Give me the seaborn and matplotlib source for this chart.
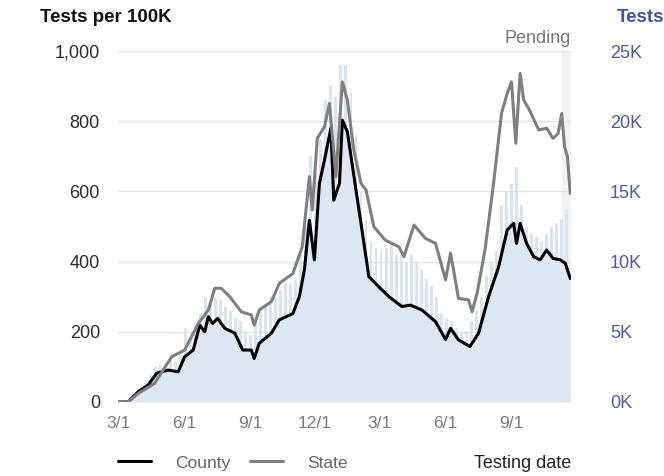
import pandas as pd
import numpy as np
import matplotlib
matplotlib.use("Agg")
import matplotlib.pyplot as plt
import matplotlib.dates as mdates
from matplotlib.lines import Line2D
import seaborn as sns

# 縣 (County) 每十萬人檢測數
county_dates = ["2020-03-01", "2020-03-15", "2020-03-29", "2020-04-12", "2020-04-24", "2020-05-10",
                "2020-05-24", "2020-06-02", "2020-06-14", "2020-06-23", "2020-06-30", "2020-07-05",
                "2020-07-11", "2020-07-18", "2020-07-28", "2020-08-11", "2020-08-22", "2020-09-03",
                "2020-09-07", "2020-09-14", "2020-10-01", "2020-10-12", "2020-10-31", "2020-11-09",
                "2020-11-16", "2020-11-23", "2020-11-30", "2020-12-07", "2020-12-14", "2020-12-23",
                "2020-12-27", "2021-01-04", "2021-01-08", "2021-01-15", "2021-01-27", "2021-02-03",
                "2021-02-14", "2021-02-28", "2021-03-14", "2021-04-01", "2021-04-13", "2021-04-29",
                "2021-05-18", "2021-06-01", "2021-06-08", "2021-06-19", "2021-07-05", "2021-07-17",
                "2021-07-31", "2021-08-14", "2021-08-26", "2021-09-04", "2021-09-08", "2021-09-13",
                "2021-09-22", "2021-10-02", "2021-10-11", "2021-10-20", "2021-10-29", "2021-11-08",
                "2021-11-15", "2021-11-22"]
county_values = [0, 0, 29, 48, 82, 91, 86, 129, 148, 219, 200, 243, 224, 238, 210, 196, 148, 148,
                 124, 167, 196, 234, 252, 300, 376, 518, 405, 623, 689, 780, 575, 623, 803, 770,
                 604, 509, 357, 328, 300, 272, 276, 262, 229, 178, 210, 177, 158, 196, 300, 385,
                 490, 509, 452, 509, 452, 414, 405, 433, 409, 405, 395, 352]

# 州 (State) 每十萬人檢測數
state_dates = ["2020-03-01", "2020-03-15", "2020-03-29", "2020-04-21", "2020-05-15", "2020-06-02",
               "2020-06-21", "2020-07-05", "2020-07-14", "2020-07-23", "2020-08-04", "2020-08-20",
               "2020-09-03", "2020-09-07", "2020-09-14", "2020-10-01", "2020-10-12", "2020-10-31",
               "2020-11-13", "2020-11-23", "2020-11-27", "2020-12-04", "2020-12-14", "2020-12-21",
               "2020-12-30", "2021-01-08", "2021-01-15", "2021-01-24", "2021-02-03", "2021-02-10",
               "2021-02-21", "2021-03-09", "2021-03-28", "2021-04-04", "2021-04-18", "2021-05-04",
               "2021-05-18", "2021-06-01", "2021-06-08", "2021-06-19", "2021-07-03", "2021-07-08",
               "2021-07-15", "2021-07-26", "2021-08-07", "2021-08-18", "2021-08-26", "2021-09-01",
               "2021-09-07", "2021-09-13", "2021-09-18", "2021-09-25", "2021-10-09", "2021-10-20",
               "2021-10-29", "2021-11-05", "2021-11-10", "2021-11-14", "2021-11-18", "2021-11-22"]
state_values = [0, 0, 24, 53, 129, 148, 224, 262, 324, 324, 300, 257, 248, 219, 262, 286, 338, 366,
                442, 642, 547, 751, 784, 851, 642, 912, 860, 718, 623, 604, 499, 461, 442, 414,
                504, 466, 452, 348, 424, 295, 291, 257, 310, 433, 623, 822, 879, 912, 737, 936,
                860, 836, 775, 780, 751, 765, 822, 727, 699, 594]

# 每日檢測數（每週峰值，千）
bar_start = "2020-03-04"
bar_tests_k = [0, 0, 0.25, 0.6, 1.0, 1.4, 1.9, 2.5, 2.6, 2.75, 3.0, 2.9, 3.5, 5.25, 4.5, 5.0,
               6.25, 7.5, 7.25, 7.5, 7.25, 6.75, 6.5, 6.0, 5.75, 5.0, 4.75, 5.75, 6.75, 7.0,
               7.5, 7.5, 8.0, 8.5, 8.5, 8.75, 10.5, 12.5, 17.5, 16.5, 18.75, 21.5, 22.5, 21.75,
               24.0, 24.0, 22.0, 19.0, 15.0, 13.0, 11.5, 11.0, 10.75, 11.0, 11.25, 10.5, 10.5,
               10.0, 10.5, 10.0, 9.5, 8.75, 8.25, 7.5, 6.25, 6.0, 5.75, 5.25, 5.0, 5.0, 5.75,
               6.5, 7.5, 9.0, 10.0, 10.75, 14.0, 15.0, 15.5, 16.75, 14.0, 12.5, 12.0, 11.75,
               11.5, 12.0, 12.5, 12.75, 13.0, 13.75]

x_start, x_end = "2020-03-01", "2021-11-23"
pending_start = "2021-11-11"
tick_dates = ["2020-03-01", "2020-06-01", "2020-09-01", "2020-12-01",
              "2021-03-01", "2021-06-01", "2021-09-01"]

county = pd.DataFrame({"date": pd.to_datetime(county_dates), "value": county_values, "series": "County"})
state = pd.DataFrame({"date": pd.to_datetime(state_dates), "value": state_values, "series": "State"})
lines = pd.concat([county, state], ignore_index=True)
bars = pd.DataFrame({"date": pd.date_range(bar_start, periods=len(bar_tests_k), freq="7D"),
                     "tests": np.array(bar_tests_k) * 1000})

sns.set_theme(style="white")
plt.rcParams["font.family"] = ["Liberation Sans", "DejaVu Sans"]

fig = plt.figure(figsize=(6.64, 4.76), dpi=100)
ax = fig.add_axes([118 / 664, 1 - 402 / 476, 453 / 664, 351 / 476])
ax2 = ax.twinx()
ax.set_zorder(ax2.get_zorder() + 1)
ax.patch.set_visible(False)

# 右軸：檢測數
ax2.bar(bars["date"], bars["tests"], width=4, color="#d2e1f2", alpha=0.9, linewidth=0)
ax2.fill_between(county["date"], county["value"] * 25, color="#dce7f3", linewidth=0)
ax2.axvspan(pd.Timestamp(pending_start), pd.Timestamp(x_end), color="#e6e6e6", alpha=0.5, linewidth=0)
ax2.set_ylim(0, 25000)
ax2.set_yticks(range(0, 25001, 5000))
ax2.set_yticklabels([f"{v // 1000}K" for v in range(0, 25001, 5000)])
ax2.tick_params(axis="y", length=0, pad=28, labelsize=13, labelcolor="#4a5ca8")

# 左軸：每十萬人
sns.lineplot(data=lines, x="date", y="value", hue="series",
             palette={"County": "#000000", "State": "#7f7f7f"},
             linewidth=2.2, ax=ax, legend=False)
ax.set_ylim(0, 1000)
ax.set_yticks(range(0, 1001, 200))
ax.set_yticklabels([f"{v:,}" for v in range(0, 1001, 200)])
ax.tick_params(axis="y", length=0, pad=13, labelsize=13, labelcolor="#2a2a36")
ax.set_xlim(pd.Timestamp(x_start), pd.Timestamp(x_end))
ax2.set_xlim(pd.Timestamp(x_start), pd.Timestamp(x_end))
ax.set_xticks(pd.to_datetime(tick_dates))
ax.xaxis.set_major_formatter(mdates.DateFormatter("%-m/%-d"))
ax.tick_params(axis="x", length=6, width=1, color="#b0b0b0", pad=4, labelsize=12.5, labelcolor="#7a7a7a")
ax.set_xlabel("")
ax.set_ylabel("")

for v in range(200, 1001, 200):
    ax2.axhline(v * 25, color="#e4e4e4", linewidth=1, zorder=0.5)
ax2.axhline(0, color="#e0e0e0", linewidth=1)

for a in (ax, ax2):
    for s in a.spines.values():
        s.set_visible(False)

fig.text(40 / 664, 1 - 18 / 476, "Tests per 100K", fontsize=13.5, fontweight="bold", color="#111111", va="center")
fig.text(617 / 664, 1 - 18 / 476, "Tests", fontsize=13.5, fontweight="bold", color="#3f54a0", va="center")
ax.text(1.0, 1.01, "Pending", transform=ax.transAxes, ha="right", va="bottom", fontsize=13, color="#777777")

handles = [Line2D([0], [0], color="#000000", lw=2.2), Line2D([0], [0], color="#7f7f7f", lw=2.2)]
leg = fig.legend(handles, ["County", "State"], loc="center left", bbox_to_anchor=(118 / 664, 1 - 463 / 476),
                 ncol=2, frameon=False, fontsize=12.5, handlelength=1.9, columnspacing=1.1,
                 handletextpad=1.4, borderpad=0, borderaxespad=0)
for t in leg.get_texts():
    t.set_color("#666666")
fig.text(571 / 664, 1 - 463 / 476, "Testing date", ha="right", va="center", fontsize=13, color="#222222")

fig.savefig("out.png", dpi=100)
